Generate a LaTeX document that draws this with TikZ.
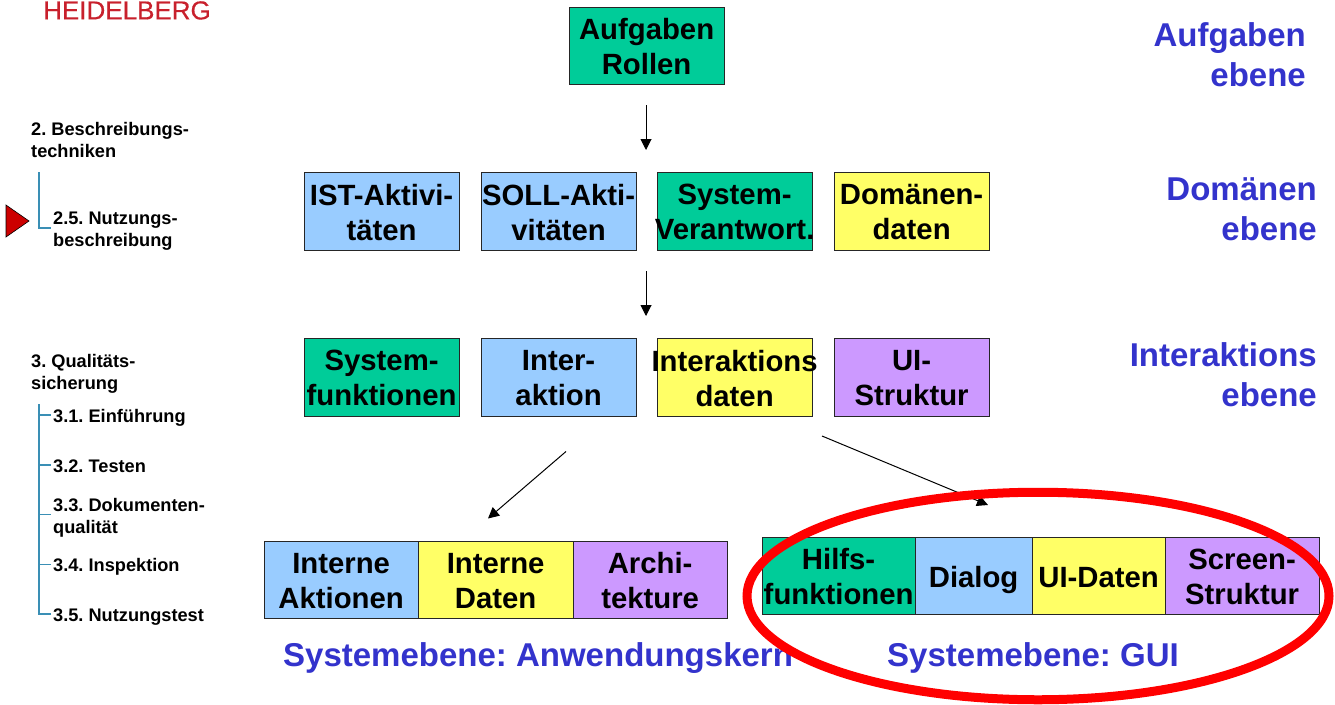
\documentclass[tikz,border=0pt]{standalone}
\usepackage{fontspec}
\setmainfont{Liberation Sans}
\newfontfamily\logofont[FakeBold=0.4]{Liberation Sans}
\frenchspacing
\usetikzlibrary{arrows.meta,shapes.geometric}
\definecolor{cblue}{HTML}{99CCFF}
\definecolor{cgreen}{HTML}{00CC99}
\definecolor{cyellow}{HTML}{FFFF66}
\definecolor{cpurple}{HTML}{CC99FF}
\definecolor{headblue}{HTML}{3333CC}
\definecolor{treeline}{HTML}{3A8FB5}
\definecolor{logored}{HTML}{C8202C}
\newcommand{\ctr}[1]{\hbox to 0pt{\hss #1\hss}}
\newcommand{\two}[2]{\vbox{\kern2pt\baselineskip=35pt\ctr{#1}\ctr{#2}}}
\newcommand{\one}[1]{\ctr{\raisebox{-11.5pt}[0pt][0pt]{#1}}}
\tikzset{
  box/.style={draw=black!85,line width=1.2pt,inner sep=0pt,anchor=north west,font=\fontsize{29.3}{35}\selectfont\bfseries,text=black},
  head/.style={inner sep=0pt,font=\fontsize{33}{40}\selectfont\bfseries,text=headblue},
  side/.style={inner sep=0pt,anchor=base west,font=\fontsize{18.2}{20}\selectfont\bfseries,text=black},
  tree/.style={draw=treeline,line width=1.1pt},
  flow/.style={draw=black,line width=1pt,-{Triangle[length=11pt,width=11pt]}},
}
\begin{document}
\begin{tikzpicture}[x=1pt,y=-1pt]
\useasboundingbox (0,0) rectangle (1335,704);
\clip (0,0) rectangle (1335,704);
% logo
\node[inner sep=0pt,anchor=base west,text=logored,font=\logofont\fontsize{26}{26}\selectfont] (logo) at (43,19.4) {HEIDELBERG};
% sidebar
\node[side] (s2) at (31,135) {2. Beschreibungs-};
\node[side] (s2b) at (31,157) {techniken};
\node[side] (s25) at (53,224) {2.5. Nutzungs-};
\node[side] (s25b) at (53,246) {beschreibung};
\node[side] (s3) at (31,367) {3. Qualitäts-};
\node[side] (s3b) at (31,389) {sicherung};
\node[side] (s31) at (53,422) {3.1. Einführung};
\node[side] (s32) at (53,472) {3.2. Testen};
\node[side] (s33) at (53,511) {3.3. Dokumenten-};
\node[side] (s33b) at (53,533) {qualität};
\node[side] (s34) at (53,571) {3.4. Inspektion};
\node[side] (s35) at (53,621) {3.5. Nutzungstest};
\draw[tree] (39,172) -- (39,228) -- (51,228);
\draw[tree] (39,404) -- (39,614) -- (51,614);
\draw[tree] (39,415) -- (51,415);
\draw[tree] (39,465) -- (51,465);
\draw[tree] (39,514.5) -- (51,514.5);
\draw[tree] (39,564.5) -- (51,564.5);
\draw[fill=red!80!black,draw=black,line width=0.6pt] (6,205) -- (29,221) -- (6,237) -- cycle;
% boxes
\newcommand{\bx}[7]{\node[box,fill=#2,minimum width=#5pt-#3pt,minimum height=#6pt-#4pt] (#1) at (#3-0.5,#4-0.5) {#7};}
\bx{aufgaben}{cgreen}{569}{7}{724}{84}{\two{Aufgaben}{Rollen}}
\bx{ist}{cblue}{304}{172}{459}{250}{\two{IST-Aktivi-}{täten}}
\bx{soll}{cblue}{481}{172}{636}{250}{\two{SOLL-Akti-}{vitäten}}
\bx{sysv}{cgreen}{657}{172}{812}{250}{\two{System-}{Verantwort.}}
\bx{dom}{cyellow}{834}{172}{989}{250}{\two{Domänen-}{daten}}
\bx{sysf}{cgreen}{304}{338}{459}{416}{\two{System-}{funktionen}}
\bx{inter}{cblue}{481}{338}{636}{416}{\two{Inter-}{aktion}}
\bx{intd}{cyellow}{657}{338}{812}{416}{\two{Interaktions}{daten}}
\bx{uis}{cpurple}{834}{338}{989}{416}{\two{UI-}{Struktur}}
\bx{ia}{cblue}{264}{541}{418}{618}{\two{Interne}{Aktionen}}
\bx{id}{cyellow}{418}{541}{573}{618}{\two{Interne}{Daten}}
\bx{arch}{cpurple}{573}{541}{727}{618}{\two{Archi-}{tekture}}
\bx{hilf}{cgreen}{762}{537}{915}{614}{\two{Hilfs-}{funktionen}}
\bx{dial}{cblue}{915}{537}{1032}{614}{\one{Dialog}}
\bx{uid}{cyellow}{1032}{537}{1165}{614}{\one{UI-Daten}}
\bx{scr}{cpurple}{1165}{537}{1319}{614}{\two{Screen-}{Struktur}}
% headings
\node[head,anchor=base east] (h1) at (1306,46) {Aufgaben};
\node[head,anchor=base east] (h1b) at (1306,86) {ebene};
\node[head,anchor=base east] (h2) at (1317,200) {Domänen};
\node[head,anchor=base east] (h2b) at (1317,240) {ebene};
\node[head,anchor=base east] (h3) at (1317,366) {Interaktions};
\node[head,anchor=base east] (h3b) at (1317,406) {ebene};
\node[head,anchor=base west] (h4) at (283,666) {Systemebene: Anwendungskern};
\node[head,anchor=base west] (h5) at (887,666) {Systemebene: GUI};
% arrows
\coordinate (a1s) at (646,105); \coordinate (a1e) at (646,150);
\coordinate (a2s) at (646,271); \coordinate (a2e) at (646,316);
\coordinate (a3s) at (566,451.5); \coordinate (a3e) at (488,518.5);
\coordinate (a4s) at (822,436); \coordinate (a4e) at (988,505);
\draw[flow] (a1s) -- (a1e);
\draw[flow] (a2s) -- (a2e);
\draw[flow] (a3s) -- (a3e);
\draw[flow] (a4s) -- (a4e);
% ellipse
\node[draw=red,line width=9pt,ellipse,inner sep=0pt,minimum width=582pt,minimum height=207.5pt] (focus) at (1038,596) {};
\end{tikzpicture}
\end{document}
